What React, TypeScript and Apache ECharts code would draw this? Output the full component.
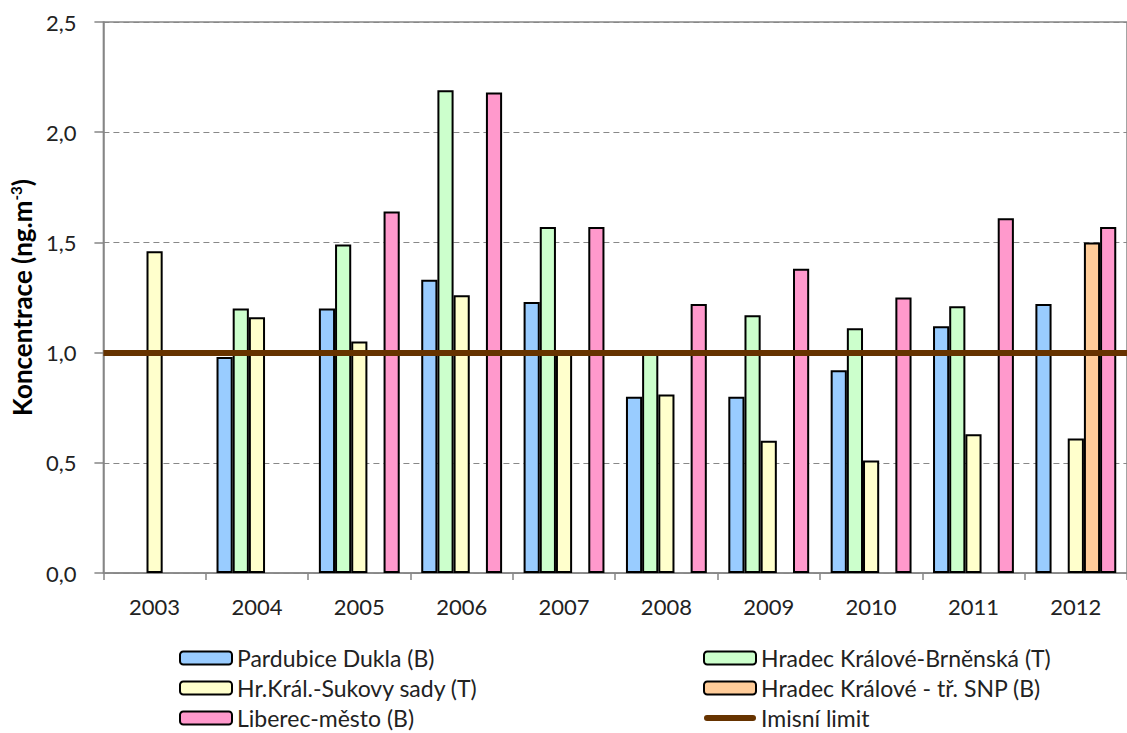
import React, { useEffect, useRef } from "react";
import * as echarts from "echarts";

const categories = ["2003", "2004", "2005", "2006", "2007", "2008", "2009", "2010", "2011", "2012"];
const pardubiceDukla = [null, 0.98, 1.2, 1.33, 1.23, 0.8, 0.8, 0.92, 1.12, 1.22];
const hkBrnenska = [null, 1.2, 1.49, 2.19, 1.57, 1.0, 1.17, 1.11, 1.21, null];
const hkSukovySady = [1.46, 1.16, 1.05, 1.26, 1.0, 0.81, 0.6, 0.51, 0.63, 0.61];
const hkSnp = [null, null, null, null, null, null, null, null, null, 1.5];
const liberecMesto = [null, null, 1.64, 2.18, 1.57, 1.22, 1.38, 1.25, 1.61, 1.57];
const imisniLimit = 1.0;

const FONT = "Lato";
const TXT = "#222";
const LIMIT_COLOR = "#663300";

export default function App() {
  const ref = useRef<HTMLDivElement>(null);
  useEffect(() => {
    if (!ref.current) return;
    const chart = echarts.init(ref.current, null, { renderer: "svg" });
    const barSeries = (name: string, data: (number | null)[], color: string) => ({
      name,
      type: "bar",
      data,
      barGap: "0%",
      barCategoryGap: "21%",
      itemStyle: { color, borderColor: "#000", borderWidth: 2 },
      emphasis: { disabled: true },
    });
    const legendBase = {
      top: 641,
      height: 100,
      width: 420,
      orient: "vertical",
      itemWidth: 52,
      itemHeight: 13,
      itemGap: 6,
      textStyle: { fontFamily: FONT, fontSize: 23, color: TXT, lineHeight: 24 },
      selectedMode: false,
    };
    chart.setOption({
      animation: false,
      grid: {
        left: 93,
        top: 22,
        bottom: 160,
        right: -12,
        show: true,
        borderColor: "#868686",
        borderWidth: 1.5,
        backgroundColor: "transparent",
      },
      xAxis: {
        type: "category",
        data: categories,
        axisLine: { lineStyle: { color: "#868686", width: 1.5 } },
        axisTick: { show: true, length: 7, lineStyle: { color: "#868686", width: 1.5 } },
        axisLabel: { fontFamily: FONT, fontSize: 22, color: TXT, margin: 22 },
      },
      yAxis: {
        type: "value",
        min: 0,
        max: 2.5,
        interval: 0.5,
        name: "{b|Koncentrace (ng.m}{sup|-3}{b|)}",
        nameLocation: "middle",
        nameGap: 58,
        nameRotate: 90,
        nameTextStyle: {
          fontFamily: FONT,
          fontWeight: "bold",
          fontSize: 26,
          color: "#000",
          rich: {
            b: { fontFamily: FONT, fontWeight: "bold", fontSize: 26, color: "#000", lineHeight: 27, verticalAlign: "bottom" },
            sup: { fontFamily: FONT, fontWeight: "bold", fontSize: 15, color: "#000", lineHeight: 27, verticalAlign: "top" },
          },
        },
        axisLine: { show: true, lineStyle: { color: "#868686", width: 1.5 } },
        axisTick: { show: true, length: 9, lineStyle: { color: "#868686", width: 1.5 } },
        axisLabel: {
          fontFamily: FONT,
          fontSize: 22,
          color: TXT,
          margin: 27,
          formatter: (v: number) => v.toFixed(1).replace(".", ","),
        },
        splitLine: { show: true, lineStyle: { color: "#888", width: 1, type: [6, 4] } },
      },
      legend: [
        {
          ...legendBase,
          left: 174,
          data: ["Pardubice Dukla (B)", "Hr.Král.-Sukovy sady (T)", "Liberec-město (B)"],
        },
        {
          ...legendBase,
          left: 698,
          data: [
            "Hradec Králové-Brněnská (T)",
            "Hradec Králové - tř. SNP (B)",
            {
              name: "Imisní limit",
              icon: "path://M3,0H49A3,3,0,0,1,49,6H3A3,3,0,0,1,3,0Z",
              itemStyle: { color: LIMIT_COLOR, borderWidth: 0 },
            },
          ],
        },
      ],
      series: [
        barSeries("Pardubice Dukla (B)", pardubiceDukla, "#99CCFF"),
        barSeries("Hradec Králové-Brněnská (T)", hkBrnenska, "#CCFFCC"),
        barSeries("Hr.Král.-Sukovy sady (T)", hkSukovySady, "#FFFFCC"),
        barSeries("Hradec Králové - tř. SNP (B)", hkSnp, "#FFCC99"),
        barSeries("Liberec-město (B)", liberecMesto, "#FF99CC"),
        {
          name: "Imisní limit",
          type: "line",
          data: [],
          symbol: "none",
          showSymbol: false,
          z: 10,
          itemStyle: { color: LIMIT_COLOR },
          lineStyle: { color: LIMIT_COLOR, width: 6 },
          markLine: {
            silent: true,
            symbol: ["none", "none"],
            label: { show: false },
            lineStyle: { color: LIMIT_COLOR, width: 6, type: "solid" },
            emphasis: { disabled: true },
            data: [{ yAxis: imisniLimit }],
          },
        },
      ],
    });
    return () => chart.dispose();
  }, []);
  return (
    <div
      ref={ref}
      style={{ position: "absolute", left: 0, top: 0, width: 1127, height: 733, background: "#fff" }}
    />
  );
}
